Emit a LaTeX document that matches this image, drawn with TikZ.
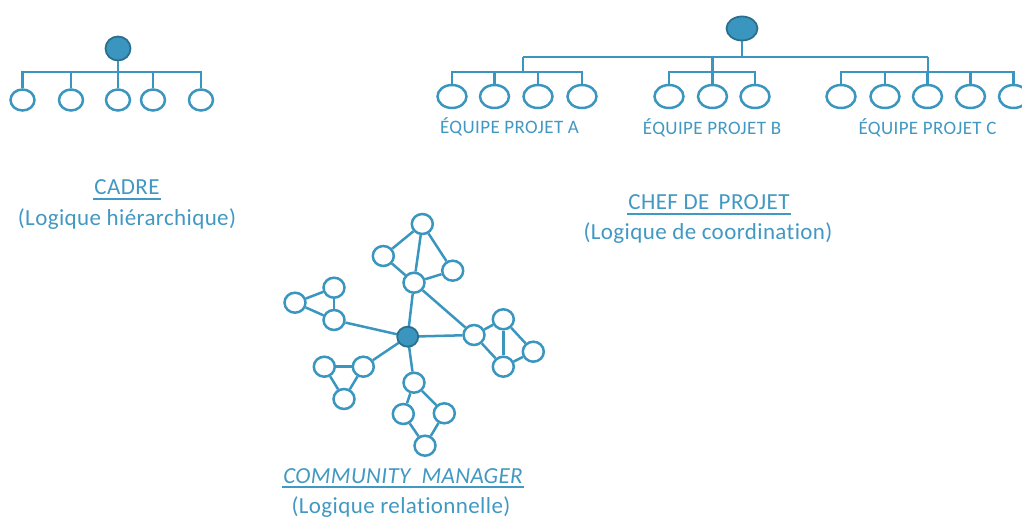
\documentclass[tikz,border=0pt]{standalone}
\usepackage{fontspec}
\setmainfont{Carlito}[Ligatures=NoCommon]
\newfontfamily\bigfont{Carlito}[Ligatures=NoCommon,LetterSpace=1.7]
\newfontfamily\smallfont{Carlito}[Ligatures=NoCommon,LetterSpace=2]
\usetikzlibrary{shapes.geometric}
\definecolor{lc}{HTML}{3A96BE}
\definecolor{dk}{HTML}{2B6F8E}
\definecolor{tc}{HTML}{4198C2}
\begin{document}
\begin{tikzpicture}[x=1pt,y=-1pt,
  line width=2.4pt, draw=lc, color=lc,
  wn/.style={ellipse, draw=lc, fill=white, inner sep=0pt, line width=2.5pt},
  lch/.style={wn, minimum width=24pt, minimum height=21pt},
  rch/.style={wn, minimum width=29pt, minimum height=23pt},
  nn/.style={wn, minimum width=21pt, minimum height=20pt},
  rootn/.style={ellipse, draw=dk, fill=lc, inner sep=0pt, line width=1.8pt},
  big/.style={text=tc, font=\bigfont\fontsize{23}{27}\selectfont, anchor=base, inner sep=0pt},
  small/.style={text=tc, font=\smallfont\fontsize{19}{22}\selectfont, anchor=base, inner sep=0pt},
  edge/.style={draw=lc, line width=2.5pt},
  uline/.style={draw=tc, line width=2pt}
]
\useasboundingbox (0,0) rectangle (1022,518);
\clip (0,0) rectangle (1022,518);

% ---------- Left tree (CADRE) ----------
\node[rootn, minimum width=25pt, minimum height=24pt] (lr) at (118,48.5) {};
\foreach \i/\x in {1/22.5,2/71,3/118,4/153,5/201}
  \node[lch] (l\i) at (\x,100) {};
\draw[edge] (lr.south) -- (lr.south |- 0,72);
\draw[edge] (l1.north) -- (l1.north |- 0,72) -- (l5.north |- 0,72) -- (l5.north);
\foreach \i in {2,3,4} \draw[edge] (l\i.north) -- (l\i.north |- 0,72);

\node[big] (cadre) at (127,195) {CADRE};
\draw[uline] ([yshift=-4pt]cadre.base west) -- ([yshift=-4pt]cadre.base east);
\node[big] (cadrel) at (127,226) {(Logique hiérarchique)};

% ---------- Right tree (CHEF DE PROJET) ----------
\node[rootn, minimum width=31pt, minimum height=24pt] (rr) at (742,28.5) {};
\coordinate (ta) at (523,57);
\coordinate (tb) at (712.5,57);
\coordinate (tc) at (928,57);
\draw[edge] (rr.south) -- (rr.south |- 0,57);
\draw[edge] (ta) -- (tc);
% team A
\foreach \i/\x in {1/452,2/494.5,3/538,4/582}
  \node[rch] (a\i) at (\x,96.5) {};
\draw[edge] (ta) -- (ta |- 0,72);
\draw[edge] (a1.north) -- (a1.north |- 0,72) -- (a4.north |- 0,72) -- (a4.north);
\foreach \i in {2,3} \draw[edge] (a\i.north) -- (a\i.north |- 0,72);
% team B
\foreach \i/\x in {1/669,2/712.5,3/755}
  \node[rch] (b\i) at (\x,96.5) {};
\draw[edge] (tb) -- (tb |- 0,72);
\draw[edge] (b1.north) -- (b1.north |- 0,72) -- (b3.north |- 0,72) -- (b3.north);
\draw[edge] (b2.north) -- (b2.north |- 0,72);
% team C
\foreach \i/\x in {1/841,2/885,3/927.5,4/970.5,5/1013.5}
  \node[rch] (c\i) at (\x,96.5) {};
\draw[edge] (tc) -- (tc |- 0,72);
\draw[edge] (c1.north) -- (c1.north |- 0,72) -- (c5.north |- 0,72) -- (c5.north);
\foreach \i in {2,3,4} \draw[edge] (c\i.north) -- (c\i.north |- 0,72);

\node[small] (ea) at (509.5,134) {ÉQUIPE PROJET A};
\node[small] (eb) at (712,135) {ÉQUIPE PROJET B};
\node[small] (ec) at (927.5,135) {ÉQUIPE PROJET C};

\node[big] (chef) at (709,210) {CHEF DE\ \,PROJET};
\draw[uline] ([yshift=-4pt]chef.base west) -- ([yshift=-4pt]chef.base east);
\node[big] (chefl) at (708,240) {(Logique de coordination)};

% ---------- Network (COMMUNITY MANAGER) ----------
\coordinate (hubc) at (407.7,336.7);
% top cluster
\node[nn] (t1) at (422.3,224) {};
\node[nn] (t2) at (383.3,256) {};
\node[nn] (t3) at (452.7,270.7) {};
\node[nn] (t4) at (414,282.7) {};
% left cluster
\node[nn] (p1) at (295,302.7) {};
\node[nn] (p2) at (334,287.7) {};
\node[nn] (p3) at (334,320) {};
% right cluster
\node[nn] (r1) at (474,335) {};
\node[nn] (r2) at (503.3,319.3) {};
\node[nn] (r3) at (533.3,351.7) {};
\node[nn] (r4) at (503.3,366.7) {};
% bottom-left cluster
\node[nn] (q1) at (324.3,366.7) {};
\node[nn] (q2) at (363.3,366.7) {};
\node[nn] (q3) at (344,399) {};
% bottom cluster
\node[nn] (d1) at (414,382.7) {};
\node[nn] (d2) at (403.3,414) {};
\node[nn] (d3) at (444.3,413.3) {};
\node[nn] (d4) at (425,445.7) {};

\draw[edge] (t1) -- (t2);
\draw[edge] (t1) -- (t4);
\draw[edge] (t1) -- (t3);
\draw[edge] (t2) -- (t4);
\draw[edge] (t3) -- (t4);
\draw[edge] (t4) -- (hubc);
\draw[edge] (t4) -- (r1);
\draw[edge] (p1) -- (p2);
\draw[edge] (p1) -- (p3);
\draw[edge] (p2) -- (p3);
\draw[edge] (p3) -- (hubc);
\draw[edge] (r1) -- (hubc);
\draw[edge] (r1) -- (r2);
\draw[edge] (r1) -- (r4);
\draw[edge] (r2) -- (r4);
\draw[edge] (r2) -- (r3);
\draw[edge] (r3) -- (r4);
\draw[edge] (q1) -- (q2);
\draw[edge] (q1) -- (q3);
\draw[edge] (q2) -- (q3);
\draw[edge] (q2) -- (hubc);
\draw[edge] (d1) -- (hubc);
\draw[edge] (d1) -- (d2);
\draw[edge] (d1) -- (d3);
\draw[edge] (d2) -- (d4);
\draw[edge] (d3) -- (d4);
\node[rootn, minimum width=21pt, minimum height=20pt] (hub) at (hubc) {};

\node[big] (cm) at (403,483) {\itshape COMMUNITY\ \ MANAGER};
\draw[uline] ([yshift=-4pt]cm.base west) -- ([yshift=-4pt]cm.base east);
\node[big] (cml) at (401,513) {(Logique relationnelle)};
\end{tikzpicture}
\end{document}
